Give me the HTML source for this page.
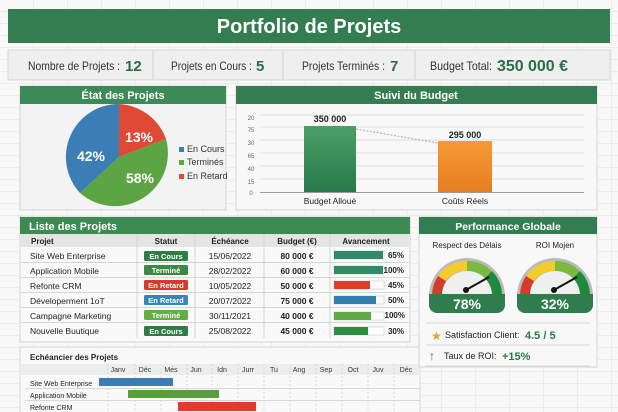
<!DOCTYPE html>
<html><head><meta charset="utf-8"><style>
html,body{margin:0;padding:0;background:#f4f5f4;}
svg{display:block;font-family:"Liberation Sans",sans-serif;}
</style></head><body>
<svg width="618" height="412" viewBox="0 0 618 412" xmlns="http://www.w3.org/2000/svg">
<defs>
<pattern id="grid" width="34" height="12" patternUnits="userSpaceOnUse"><rect width="34" height="12" fill="#f7f8f7"/><path d="M34 0V12M0 12H34" stroke="#dfe2df" stroke-width="1"/></pattern>
<linearGradient id="gb" x1="0" y1="0" x2="0" y2="1"><stop offset="0" stop-color="#4aa066"/><stop offset="1" stop-color="#267a4c"/></linearGradient>
<linearGradient id="ob" x1="0" y1="0" x2="0" y2="1"><stop offset="0" stop-color="#f69a35"/><stop offset="1" stop-color="#e67e22"/></linearGradient>
</defs>
<rect width="618" height="412" fill="url(#grid)"/>
<!-- header -->
<rect x="8" y="9" width="602" height="34" fill="#347d50"/>
<text x="309" y="33" text-anchor="middle" font-size="20" font-weight="bold" fill="#fff">Portfolio de Projets</text>
<rect x="8" y="50" width="602" height="30" fill="#eeefee" stroke="#d4d6d4"/>
<g stroke="#d0d2d0"><line x1="153" y1="51" x2="153" y2="79"/><line x1="283" y1="51" x2="283" y2="79"/><line x1="415" y1="51" x2="415" y2="79"/></g>
<g font-size="12" fill="#333"><text x="28" y="70" textLength="92" lengthAdjust="spacingAndGlyphs">Nombre de Projets :</text><text x="171" y="70" textLength="81" lengthAdjust="spacingAndGlyphs">Projets en Cours :</text><text x="302" y="70" textLength="83" lengthAdjust="spacingAndGlyphs">Projets Terminés :</text><text x="430" y="70" textLength="62" lengthAdjust="spacingAndGlyphs">Budget Total:</text></g>
<g font-weight="bold" fill="#2b6e46"><text x="125" y="71" font-size="15">12</text><text x="256" y="71" font-size="15">5</text><text x="390" y="71" font-size="15">7</text><text x="497" y="71" font-size="16" textLength="71" lengthAdjust="spacingAndGlyphs">350 000 €</text></g>
<!-- pie panel -->
<rect x="20" y="86" width="206" height="124" fill="#f2f3f2" stroke="#d4d6d4"/>
<rect x="20" y="86" width="206" height="18" fill="#3c8a57"/>
<text x="123" y="99" text-anchor="middle" font-size="11" font-weight="bold" fill="#fff">État des Projets</text>
<path d="M119 157 L119 104 A53 53 0 0 1 166 139 Z" fill="#e04a35"/>
<path d="M119 157 L166 139 A53 53 0 0 1 80 193 Z" fill="#5da544"/>
<path d="M119 157 L80 193 A53 53 0 0 1 119 104 Z" fill="#3b7eb5"/>
<g font-size="14" font-weight="bold" fill="#fff"><text x="139" y="142" text-anchor="middle">13%</text><text x="91" y="161" text-anchor="middle">42%</text><text x="140" y="183" text-anchor="middle">58%</text></g>
<g font-size="9" fill="#333"><rect x="179" y="147" width="5" height="5" fill="#3b7eb5"/><text x="187" y="152">En Cours</text><rect x="179" y="160" width="5" height="5" fill="#5da544"/><text x="187" y="165">Terminés</text><rect x="179" y="174" width="5" height="5" fill="#e04a35"/><text x="187" y="179">En Retard</text></g>
<!-- budget panel -->
<rect x="236" y="86" width="361" height="124" fill="#f7f8f7" stroke="#d4d6d4"/>
<rect x="236" y="86" width="361" height="18" fill="#347d50"/>
<text x="416" y="99" text-anchor="middle" font-size="11" font-weight="bold" fill="#fff">Suivi du Budget</text>
<g stroke="#dcdedc"><line x1="260" y1="115" x2="584" y2="115"/><line x1="260" y1="127" x2="584" y2="127"/><line x1="260" y1="140" x2="584" y2="140"/><line x1="260" y1="153" x2="584" y2="153"/><line x1="260" y1="166" x2="584" y2="166"/><line x1="260" y1="179" x2="584" y2="179"/></g>
<line x1="260" y1="192.5" x2="584" y2="192.5" stroke="#999"/>
<g font-size="6" fill="#666" text-anchor="middle"><text x="251" y="120">20</text><text x="251" y="132">75</text><text x="251" y="145">30</text><text x="251" y="158">65</text><text x="251" y="171">40</text><text x="251" y="184">15</text><text x="251" y="195">0</text></g>
<rect x="304" y="126" width="52" height="66" fill="url(#gb)"/>
<rect x="438" y="141" width="54" height="51" fill="url(#ob)"/>
<line x1="356" y1="129" x2="438" y2="143" stroke="#aaa" stroke-dasharray="2 1.5"/>
<g font-size="9" font-weight="bold" fill="#222" text-anchor="middle"><text x="330" y="122">350 000</text><text x="465" y="138">295 000</text></g>
<g font-size="8.5" fill="#222" text-anchor="middle"><text x="330" y="204">Budget Alloué</text><text x="465" y="204">Coûts Réels</text></g>
<!-- list panel -->
<rect x="20" y="217" width="390" height="125" fill="#f8f9f8" stroke="#d4d6d4"/>
<rect x="20" y="217" width="390" height="17" fill="#3d8b53"/>
<text x="29" y="230" font-size="11" font-weight="bold" fill="#fff">Liste des Projets</text>
<rect x="21" y="234" width="388" height="13" fill="#e3e5e3"/>
<g font-size="8" font-weight="bold" fill="#222"><text x="31" y="244">Projet</text><text x="166" y="244" text-anchor="middle">Statut</text><text x="230" y="244" text-anchor="middle">Échéance</text><text x="297" y="244" text-anchor="middle">Budget (€)</text><text x="366" y="244" text-anchor="middle">Avancement</text></g>
<g stroke="#d4d6d4"><line x1="137" y1="234" x2="137" y2="338"/><line x1="195" y1="234" x2="195" y2="338"/><line x1="264" y1="234" x2="264" y2="338"/><line x1="330" y1="234" x2="330" y2="338"/>
<line x1="21" y1="262.5" x2="409" y2="262.5"/><line x1="21" y1="277.5" x2="409" y2="277.5"/><line x1="21" y1="292.5" x2="409" y2="292.5"/><line x1="21" y1="307.5" x2="409" y2="307.5"/><line x1="21" y1="322.5" x2="409" y2="322.5"/></g>
<g font-size="8.5" fill="#222"><text x="30" y="259">Site Web Enterprise</text><text x="30" y="274">Application Mobile</text><text x="30" y="289">Refonte CRM</text><text x="30" y="304">Déveloperment 1oT</text><text x="30" y="319">Campagne Marketing</text><text x="30" y="334">Nouvelle Buutique</text></g>
<g font-size="8.5" fill="#222" text-anchor="middle"><text x="230" y="259">15/06/2022</text><text x="230" y="274">28/02/2022</text><text x="230" y="289">10/05/2022</text><text x="230" y="304">20/07/2022</text><text x="230" y="319">30/11/2021</text><text x="230" y="334">25/08/2022</text></g>
<g font-size="8.5" font-weight="bold" fill="#222" text-anchor="middle"><text x="297" y="259">80 000 €</text><text x="297" y="274">60 000 €</text><text x="297" y="289">50 000 €</text><text x="297" y="304">75 000 €</text><text x="297" y="319">40 000 €</text><text x="297" y="334">45 000 €</text></g>
<g><rect x="144" y="251" width="44" height="10" rx="1.5" fill="#2f7d44"/><rect x="144" y="265" width="44" height="10" rx="1.5" fill="#3b8a44"/><rect x="144" y="280" width="44" height="10" rx="1.5" fill="#d83a2a"/><rect x="144" y="295" width="44" height="10" rx="1.5" fill="#3488b3"/><rect x="144" y="310" width="44" height="10" rx="1.5" fill="#62ad48"/><rect x="144" y="326" width="44" height="10" rx="1.5" fill="#2f7d44"/></g>
<g font-size="7.5" font-weight="bold" fill="#fff" text-anchor="middle"><text x="166" y="259">En Cours</text><text x="166" y="273">Terminé</text><text x="166" y="288">En Retard</text><text x="166" y="303">En Retard</text><text x="166" y="318">Terminé</text><text x="166" y="334">En Cours</text></g>
<g stroke="#bbb" stroke-width="0.5" fill="#fff"><rect x="334" y="251" width="50" height="8"/><rect x="334" y="266" width="50" height="8"/><rect x="334" y="281" width="50" height="8"/><rect x="334" y="296" width="50" height="8"/><rect x="334" y="312" width="50" height="8"/><rect x="334" y="327" width="50" height="8"/></g>
<rect x="334" y="251" width="49" height="8" fill="#2e8a6a"/><rect x="334" y="266" width="49" height="8" fill="#2f8a66"/><rect x="334" y="281" width="36" height="8" fill="#d93f2c"/><rect x="334" y="296" width="42" height="8" fill="#327fae"/><rect x="334" y="312" width="37" height="8" fill="#5faa44"/><rect x="334" y="327" width="34" height="8" fill="#2f8a44"/>
<g font-size="8" font-weight="bold" fill="#222" text-anchor="end"><text x="404" y="258">65%</text><text x="404" y="273">100%</text><text x="404" y="288">45%</text><text x="404" y="303">50%</text><text x="405" y="318">100%</text><text x="404" y="334">30%</text></g>
<!-- gantt -->
<rect x="20" y="347" width="400" height="66" fill="#f8f9f8" stroke="#d4d6d4"/>
<text x="30" y="360" font-size="8" font-weight="bold" fill="#222">Echéancier des Projets</text>
<rect x="21" y="364" width="399" height="11" fill="#eceeec"/>
<g stroke="#d6d8d6" stroke-dasharray="2 2"><line x1="108" y1="364" x2="108" y2="412"/><line x1="135" y1="364" x2="135" y2="412"/><line x1="161" y1="364" x2="161" y2="412"/><line x1="187" y1="364" x2="187" y2="412"/><line x1="212" y1="364" x2="212" y2="412"/><line x1="238" y1="364" x2="238" y2="412"/><line x1="264" y1="364" x2="264" y2="412"/><line x1="290" y1="364" x2="290" y2="412"/><line x1="316" y1="364" x2="316" y2="412"/><line x1="342" y1="364" x2="342" y2="412"/><line x1="368" y1="364" x2="368" y2="412"/><line x1="394" y1="364" x2="394" y2="412"/></g>
<g stroke="#d6d8d6"><line x1="25" y1="388.5" x2="420" y2="388.5"/><line x1="25" y1="400.5" x2="420" y2="400.5"/></g>
<g font-size="7" fill="#333" text-anchor="middle"><text x="118" y="372">Janv</text><text x="145" y="372">Déc</text><text x="171" y="372">Mės</text><text x="196" y="372">Jun</text><text x="222" y="372">Idn</text><text x="248" y="372">Jurr</text><text x="274" y="372">Tu</text><text x="299" y="372">Ang</text><text x="326" y="372">Sep</text><text x="353" y="372">Oct</text><text x="378" y="372">Juv</text><text x="406" y="372">Déc</text></g>
<g font-size="7" fill="#222"><text x="30" y="386">Site Web Enterprise</text><text x="30" y="398">Application Mobile</text><text x="30" y="410">Refonte CRM</text></g>
<rect x="99" y="378" width="74" height="8" fill="#3b7eb5"/><rect x="128" y="390" width="91" height="8" fill="#5a9e3c"/><rect x="178" y="402" width="78" height="9" fill="#d93f2c"/>
<!-- performance -->
<rect x="419" y="217" width="178" height="150" fill="#f7f8f7" stroke="#d4d6d4"/>
<rect x="419" y="217" width="178" height="17" fill="#347d50"/>
<text x="508" y="230" text-anchor="middle" font-size="10.5" font-weight="bold" fill="#fff">Performance Globale</text>
<g font-size="8" fill="#222" text-anchor="middle"><text x="467" y="248">Respect des Délais</text><text x="555" y="248">ROI Mojen</text></g>
<g id="g1">
<path d="M429 296 A38 38 0 0 1 505 296 Z" fill="#bbb"/>
<path d="M432 296 A35 35 0 0 1 438 276 L446 281 A25 25 0 0 0 442 296Z" fill="#d63a2a"/>
<path d="M438 276 A35 35 0 0 1 467 261 L467 271 A25 25 0 0 0 446 281Z" fill="#f4cb2b"/>
<path d="M467 261 A35 35 0 0 1 492 271 L485 278 A25 25 0 0 0 467 271Z" fill="#7bb943"/>
<path d="M492 271 A35 35 0 0 1 502 296 L492 296 A25 25 0 0 0 485 278Z" fill="#1f8a3c"/>
<path d="M442 296 A25 25 0 0 1 492 296Z" fill="#eef0ee"/>
<path d="M429 294 H505 V305 A8 8 0 0 1 497 313 H437 A8 8 0 0 1 429 305Z" fill="#2f7d4c"/>
<line x1="466" y1="290" x2="489" y2="277" stroke="#111" stroke-width="2"/><circle cx="466" cy="290" r="3" fill="#111"/>
<text x="467" y="309" text-anchor="middle" font-size="14" font-weight="bold" fill="#fff">78%</text>
</g>
<use href="#g1" x="88"/>
<rect x="525" y="294" width="60" height="18" fill="#2f7d4c"/>
<text x="555" y="309" text-anchor="middle" font-size="14" font-weight="bold" fill="#fff">32%</text>
<line x1="426" y1="323" x2="590" y2="323" stroke="#d8dad8"/><line x1="426" y1="345" x2="590" y2="345" stroke="#d8dad8"/><line x1="426" y1="366" x2="590" y2="366" stroke="#d8dad8"/>
<text x="431" y="340" font-size="12" fill="#d9a62e">★</text>
<text x="445" y="338" font-size="9" fill="#222">Satisfaction Client:</text>
<text x="525" y="339" font-size="11" font-weight="bold" fill="#2b7a46">4.5 / 5</text>
<text x="429" y="360" font-size="12" font-weight="bold" fill="#2b7a46">↑</text>
<text x="444" y="359" font-size="9" fill="#222">Taux de ROI:</text>
<text x="502" y="360" font-size="11" font-weight="bold" fill="#2b7a46">+15%</text>
</svg>
</body></html>
